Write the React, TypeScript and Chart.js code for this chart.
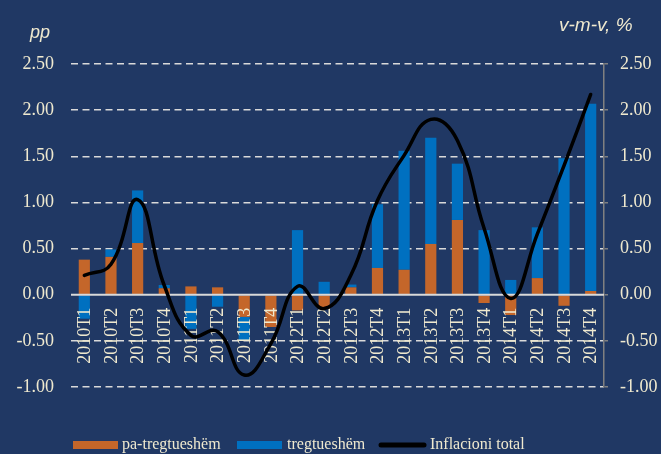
import React, { useEffect, useRef } from "react";
import { Chart, registerables } from "chart.js";

Chart.register(...registerables);

const categories = [
  "2010T1", "2010T2", "2010T3", "2010T4",
  "2011T1", "2011T2", "2011T3", "2011T4",
  "2012T1", "2012T2", "2012T3", "2012T4",
  "2013T1", "2013T2", "2013T3", "2013T4",
  "2014T1", "2014T2", "2014T3", "2014T4",
];

const nonTradable = [
  0.38, 0.41, 0.56, 0.07, 0.09, 0.08, -0.24, -0.35, -0.17, -0.15,
  0.08, 0.29, 0.27, 0.55, 0.81, -0.09, -0.22, 0.18, -0.12, 0.04,
];

const tradable = [
  -0.26, 0.08, 0.57, 0.035, -0.37, -0.13, -0.26, 0, 0.7, 0.14,
  0.03, 0.69, 1.29, 1.15, 0.61, 0.7, 0.16, 0.55, 1.48, 2.03,
];

const inflation = [
  0.21, 0.33, 1.03, 0.1, -0.44, -0.4, -0.87, -0.53, 0.09, -0.15,
  0.21, 1.02, 1.51, 1.9, 1.67, 0.72, -0.04, 0.66, 1.4, 2.17,
];

const seriesNames = ["pa-tregtueshëm", "tregtueshëm", "Inflacioni total"];
const leftTitle = "pp";
const rightTitle = "v-m-v, %";

const BG = "#203864";
const ORANGE = "#C4662A";
const BLUE = "#0070C0";
const TEXT = "#EFE9CF";
const GRID = "#D9D9D9";
const SERIF = '"Liberation Serif", "Times New Roman", serif';
const SANS = '"Liberation Sans", Arial, sans-serif';

const overlayPlugin = {
  id: "overlay",
  beforeDatasetDraw(chart: any, args: any) {
    if (args.index !== 2) return;
    const ctx = chart.ctx;
    const xs = chart.scales.x;
    const ys = chart.scales.y;
    const area = chart.chartArea;
    const y0 = ys.getPixelForValue(0);
    // zero line
    ctx.save();
    ctx.strokeStyle = GRID;
    ctx.lineWidth = 2;
    ctx.beginPath();
    ctx.moveTo(area.left, y0);
    ctx.lineTo(area.right, y0);
    ctx.stroke();
    // category labels
    ctx.fillStyle = TEXT;
    ctx.font = `18px ${SERIF}`;
    ctx.textAlign = "right";
    ctx.textBaseline = "middle";
    categories.forEach((c, i) => {
      const x = xs.getPixelForValue(i);
      ctx.save();
      ctx.translate(x + 1, y0 + 13);
      ctx.rotate(-Math.PI / 2);
      ctx.fillText(c, 0, 0);
      ctx.restore();
    });
    ctx.restore();
  },
  afterDraw(chart: any) {
    const ctx = chart.ctx;
    ctx.save();
    // axis titles
    ctx.fillStyle = TEXT;
    ctx.textAlign = "left";
    ctx.textBaseline = "alphabetic";
    ctx.font = `italic 18px ${SANS}`;
    ctx.fillText(leftTitle, 30, 38);
    ctx.font = `italic 19px ${SANS}`;
    ctx.fillText(rightTitle, 559, 31);
    // legend
    const ly = 445;
    ctx.font = `16px ${SERIF}`;
    ctx.textBaseline = "middle";
    ctx.fillStyle = ORANGE;
    ctx.fillRect(73, ly - 4, 45, 8);
    ctx.fillStyle = TEXT;
    ctx.fillText(seriesNames[0], 122, ly);
    ctx.fillStyle = BLUE;
    ctx.fillRect(237, ly - 4, 45, 8);
    ctx.fillStyle = TEXT;
    ctx.fillText(seriesNames[1], 287, ly);
    ctx.strokeStyle = "#000000";
    ctx.lineWidth = 5;
    ctx.lineCap = "round";
    ctx.beginPath();
    ctx.moveTo(381, ly);
    ctx.lineTo(424, ly);
    ctx.stroke();
    ctx.fillStyle = TEXT;
    ctx.fillText(seriesNames[2], 430, ly);
    ctx.restore();
  },
};

export default function App() {
  const ref = useRef<HTMLCanvasElement | null>(null);

  useEffect(() => {
    if (!ref.current) return;
    const fmt = (v: any) => Number(v).toFixed(2);
    const chart = new Chart(ref.current, {
      type: "bar",
      data: {
        labels: categories,
        datasets: [
          {
            type: "bar",
            label: seriesNames[0],
            data: nonTradable,
            backgroundColor: ORANGE,
            borderWidth: 0,
            stack: "bars",
            order: 1,
            barPercentage: 0.42,
            categoryPercentage: 1,
          } as any,
          {
            type: "bar",
            label: seriesNames[1],
            data: tradable,
            backgroundColor: BLUE,
            borderWidth: 0,
            stack: "bars",
            order: 1,
            barPercentage: 0.42,
            categoryPercentage: 1,
          } as any,
          {
            type: "line",
            label: seriesNames[2],
            data: inflation,
            borderColor: "#000000",
            borderWidth: 3.5,
            pointRadius: 0,
            tension: 0.45,
            fill: false,
            stack: "line",
            order: 0,
            borderCapStyle: "round",
          } as any,
        ],
      },
      options: {
        responsive: false,
        animation: false,
        layout: { padding: { top: 64, bottom: 67, left: 0, right: 0 } },
        plugins: {
          legend: { display: false },
          tooltip: { enabled: false },
        },
        scales: {
          x: {
            type: "category",
            display: false,
            stacked: true,
            offset: true,
          },
          y: {
            position: "left",
            stacked: true,
            min: -1,
            max: 2.5,
            afterFit: (s: any) => {
              s.width = 71;
            },
            ticks: {
              stepSize: 0.5,
              padding: 17,
              color: TEXT,
              font: { family: SERIF, size: 18 },
              callback: fmt,
            },
            grid: {
              drawTicks: false,
              lineWidth: 1.5,
              color: (c: any) =>
                c.tick && Math.abs(c.tick.value) < 1e-9 ? "rgba(0,0,0,0)" : GRID,
            },
            border: { display: false, dash: [7, 4.5] },
          },
          y2: {
            position: "right",
            min: -1,
            max: 2.5,
            afterFit: (s: any) => {
              s.width = 57;
            },
            ticks: {
              stepSize: 0.5,
              padding: 12,
              color: TEXT,
              font: { family: SERIF, size: 18 },
              callback: fmt,
            },
            grid: {
              drawOnChartArea: false,
              drawTicks: true,
              tickLength: 4,
              color: "#808080",
              lineWidth: 1.5,
            },
            border: { display: true, color: "#808080", width: 1.5 },
          },
        },
      },
      plugins: [overlayPlugin],
    } as any);
    return () => chart.destroy();
  }, []);

  return (
    <div
      style={{
        position: "fixed",
        left: 0,
        top: 0,
        width: 661,
        height: 454,
        background: BG,
      }}
    >
      <canvas ref={ref} width={661} height={454} style={{ display: "block" }} />
    </div>
  );
}
